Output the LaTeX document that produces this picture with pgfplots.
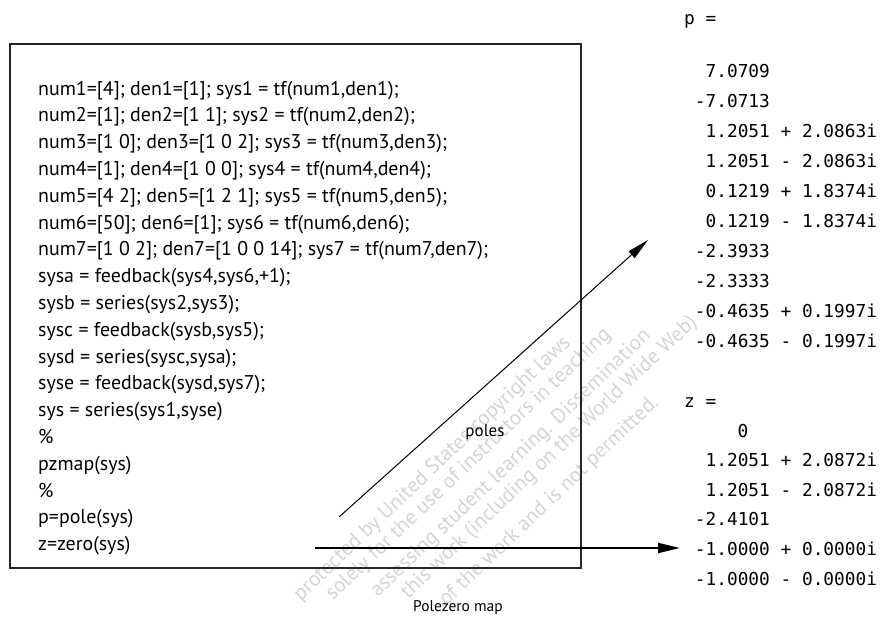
\documentclass[border=0pt]{standalone}
\usepackage{fontspec}
\setmainfont{PT Sans}
\newfontfamily\monofont{DejaVu Sans Mono}
\usepackage{pgfplots}
\pgfplotsset{compat=1.18}
\usetikzlibrary{arrows.meta}
\begin{document}
\begin{tikzpicture}
\begin{axis}[
  hide axis, scale only axis, width=886pt, height=615pt,
  xmin=0, xmax=886, ymin=0, ymax=615, y dir=reverse, clip=false,
]
\path (axis cs:0,0) rectangle (axis cs:886,615);
% watermark
\begin{scope}[every node/.style={text=black!17, font=\fontsize{21}{24}\selectfont, rotate=43.6, anchor=east, inner sep=0pt}]
\node at (axis cs:568,340) {protected by United States copyright laws};
\node at (axis cs:608,332) {solely for the use of instructors in teaching};
\node at (axis cs:648,333) {assessing student learning. Dissemination};
\node at (axis cs:694,320) {this work (including on the World Wide Web)};
\node at (axis cs:656,400) {of the work and is not permitted.};
\end{scope}
% box
\addplot[black!85, line width=2pt, line cap=rect, line join=miter] coordinates {(10,44) (581,44) (581,568) (10,568) (10,44)};
% code listing
\begin{scope}[every node/.style={anchor=base west, inner sep=0pt, font=\fontsize{19.9}{24}\selectfont}]
\node at (axis cs:38,95) {num1=[4]; den1=[1]; sys1 = tf(num1,den1);};
\node at (axis cs:38,121.8) {num2=[1]; den2=[1 1]; sys2 = tf(num2,den2);};
\node at (axis cs:38,148.6) {num3=[1 0]; den3=[1 0 2]; sys3 = tf(num3,den3);};
\node at (axis cs:38,175.4) {num4=[1]; den4=[1 0 0]; sys4 = tf(num4,den4);};
\node at (axis cs:38,202.2) {num5=[4 2]; den5=[1 2 1]; sys5 = tf(num5,den5);};
\node at (axis cs:38,229.0) {num6=[50]; den6=[1]; sys6 = tf(num6,den6);};
\node at (axis cs:38,255.8) {num7=[1 0 2]; den7=[1 0 0 14]; sys7 = tf(num7,den7);};
\node at (axis cs:38,282.6) {sysa = feedback(sys4,sys6,+1);};
\node at (axis cs:38,309.4) {sysb = series(sys2,sys3);};
\node at (axis cs:38,336.2) {sysc = feedback(sysb,sys5);};
\node at (axis cs:38,363.0) {sysd = series(sysc,sysa);};
\node at (axis cs:38,389.8) {syse = feedback(sysd,sys7);};
\node at (axis cs:38,416.6) {sys = series(sys1,syse)};
\node at (axis cs:38,443.4) {\%};
\node at (axis cs:38,470.2) {pzmap(sys)};
\node at (axis cs:38,497.0) {\%};
\node at (axis cs:38,523.8) {p=pole(sys)};
\node at (axis cs:38,550.6) {z=zero(sys)};
\end{scope}
% arrows
\addplot[black, line width=1pt, -{Triangle[length=22pt,width=9pt]}] coordinates {(339,517) (648,240)};
\addplot[black, line width=2pt, -{Triangle[length=22pt,width=10pt]}] coordinates {(315,548) (680,548)};
\node[font=\fontsize{17}{20}\selectfont] at (axis cs:485,432) {poles};
\node[font=\fontsize{15.5}{18}\selectfont] at (axis cs:458,608) {Polezero map};
% MATLAB output
\begin{scope}[every node/.style={anchor=base west, inner sep=0pt, font=\monofont\fontsize{17.8}{20}\selectfont}]
\node at (axis cs:684,24.5) {p =};
\node at (axis cs:705.4,77.5) {7.0709};
\node at (axis cs:694.7,107.5) {-7.0713};
\node at (axis cs:705.4,137.5) {1.2051 + 2.0863i};
\node at (axis cs:705.4,167.5) {1.2051 - 2.0863i};
\node at (axis cs:705.4,197.5) {0.1219 + 1.8374i};
\node at (axis cs:705.4,227.5) {0.1219 - 1.8374i};
\node at (axis cs:694.7,257.5) {-2.3933};
\node at (axis cs:694.7,287.5) {-2.3333};
\node at (axis cs:694.7,317.5) {-0.4635 + 0.1997i};
\node at (axis cs:694.7,347.5) {-0.4635 - 0.1997i};
\node at (axis cs:684,407.5) {z =};
\node at (axis cs:737.5,437.5) {0};
\node at (axis cs:705.4,466.5) {1.2051 + 2.0872i};
\node at (axis cs:705.4,496.5) {1.2051 - 2.0872i};
\node at (axis cs:694.7,525.5) {-2.4101};
\node at (axis cs:694.7,555.5) {-1.0000 + 0.0000i};
\node at (axis cs:694.7,585.5) {-1.0000 - 0.0000i};
\end{scope}
\end{axis}
\end{tikzpicture}
\end{document}
